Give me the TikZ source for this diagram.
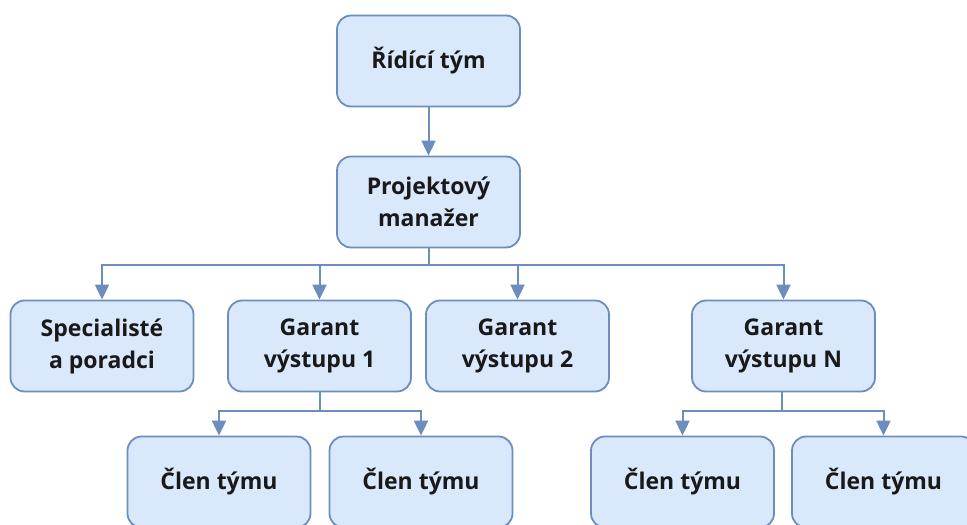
\documentclass[tikz,border=0pt]{standalone}
\usepackage{fontspec}
\setmainfont{Open Sans}
\usetikzlibrary{arrows.meta}
\definecolor{boxfill}{HTML}{DAE8FC}
\definecolor{boxline}{HTML}{6C8EBF}
\begin{document}
\begin{tikzpicture}[x=1pt,y=-1pt,
  box/.style={draw=boxline,fill=boxfill,line width=1.8pt,rounded corners=14pt,
    minimum width=183pt,minimum height=91pt,align=center,inner sep=0pt,
    font=\fontsize{23}{32}\selectfont\bfseries,text=black!90},
  conn/.style={draw=boxline,line width=2pt},
  arr/.style={conn,-{Triangle[width=14pt,length=15pt]}}]
\useasboundingbox (0,0) rectangle (967,525);
\clip (0,0) rectangle (967,525);
\node[box] (rt) at (428.5,61) {Řídící tým};
\node[box] (pm) at (428.5,202) {Projektový\\manažer};
\node[box] (sp) at (102,346) {Specialisté\\a poradci};
\node[box] (g1) at (319.5,346) {Garant\\výstupu 1};
\node[box] (g2) at (517.5,346) {Garant\\výstupu 2};
\node[box] (gn) at (783.5,346) {Garant\\výstupu N};
\node[box] (c1) at (219,482) {Člen týmu};
\node[box] (c2) at (421,482) {Člen týmu};
\node[box] (c3) at (682.5,482) {Člen týmu};
\node[box] (c4) at (883.5,482) {Člen týmu};
\coordinate (bar) at (428.5,265);
\coordinate (bar1) at (319.5,411);
\coordinate (barn) at (781.5,411);
\draw[arr] (rt) -- (pm);
\draw[conn] (pm.south) -- (bar);
\draw[arr] (bar) -| (sp.north);
\draw[arr] (bar) -| (g1.north);
\draw[arr] (bar) -| (g2.north);
\draw[arr] (bar) -| (gn.north);
\draw[conn] (g1.south) -- (bar1);
\draw[arr] (bar1) -| (c1.north);
\draw[arr] (bar1) -| (c2.north);
\draw[conn] (gn.south -| barn) -- (barn);
\draw[arr] (barn) -| (c3.north);
\draw[arr] (barn) -| (c4.north);
\end{tikzpicture}
\end{document}
